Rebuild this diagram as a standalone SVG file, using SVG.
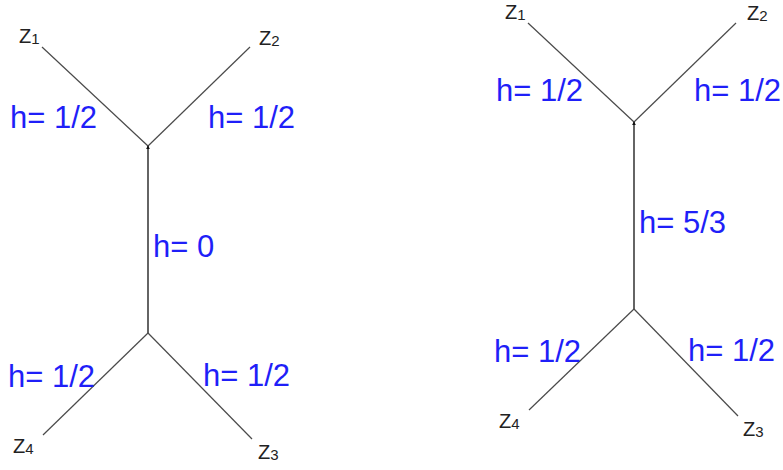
<svg xmlns="http://www.w3.org/2000/svg" width="783" height="470" viewBox="0 0 783 470">
<style>
.e{stroke:#4a4a4a;stroke-width:1.2;fill:none}
.v{stroke:#111;stroke-width:1.3;fill:none}
.z{font-family:"Liberation Sans",Arial,sans-serif;font-size:20px;fill:#222}
.s{font-size:15px}
.h{font-family:"Liberation Sans",Arial,sans-serif;font-size:31px;fill:#1f1ff8}
</style>
<defs>
<marker id="tip" viewBox="0 0 6 6" refX="5" refY="3" markerWidth="4" markerHeight="4" orient="auto" markerUnits="userSpaceOnUse">
<path d="M0,0 L6,3 L0,6 z" fill="#111"/>
</marker>
</defs>
<rect width="783" height="470" fill="#fff"/>
<g id="connectors">
<line class="e" x1="42" y1="47" x2="148" y2="146"/>
<line class="e" x1="250" y1="47" x2="148" y2="146"/>
<line class="v" x1="148" y1="333" x2="148" y2="146" marker-end="url(#tip)"/>
<line class="e" x1="148" y1="333" x2="43" y2="435"/>
<line class="e" x1="148" y1="333" x2="252" y2="439"/>
<line class="e" x1="528" y1="23" x2="634" y2="122"/>
<line class="e" x1="736" y1="23" x2="634" y2="122"/>
<line class="v" x1="634" y1="309" x2="634" y2="122" marker-end="url(#tip)"/>
<line class="e" x1="634" y1="309" x2="529" y2="410"/>
<line class="e" x1="634" y1="309" x2="738" y2="416"/>
</g>
<g id="left-z1"><text class="z" x="19" y="43">Z<tspan class="s" dy="1">1</tspan></text></g>
<g id="left-z2"><text class="z" x="259" y="45">Z<tspan class="s" dy="1">2</tspan></text></g>
<g id="left-z4"><text class="z" x="13" y="453">Z<tspan class="s" dy="1">4</tspan></text></g>
<g id="left-z3"><text class="z" x="258" y="459">Z<tspan class="s" dy="1">3</tspan></text></g>
<g id="right-z1"><text class="z" x="505" y="19">Z<tspan class="s" dy="1">1</tspan></text></g>
<g id="right-z2"><text class="z" x="747" y="20">Z<tspan class="s" dy="1">2</tspan></text></g>
<g id="right-z4"><text class="z" x="499" y="428">Z<tspan class="s" dy="1">4</tspan></text></g>
<g id="right-z3"><text class="z" x="743" y="436">Z<tspan class="s" dy="1">3</tspan></text></g>
<g id="labels">
<text class="h" x="10" y="128">h= 1/2</text>
<text class="h" x="208" y="128">h= 1/2</text>
<text class="h" x="153" y="257">h= 0</text>
<text class="h" x="8" y="387">h= 1/2</text>
<text class="h" x="203" y="386">h= 1/2</text>
<text class="h" x="496" y="101">h= 1/2</text>
<text class="h" x="694" y="101">h= 1/2</text>
<text class="h" x="639" y="233">h= 5/3</text>
<text class="h" x="494" y="362">h= 1/2</text>
<text class="h" x="688" y="361">h= 1/2</text>
</g>
</svg>
